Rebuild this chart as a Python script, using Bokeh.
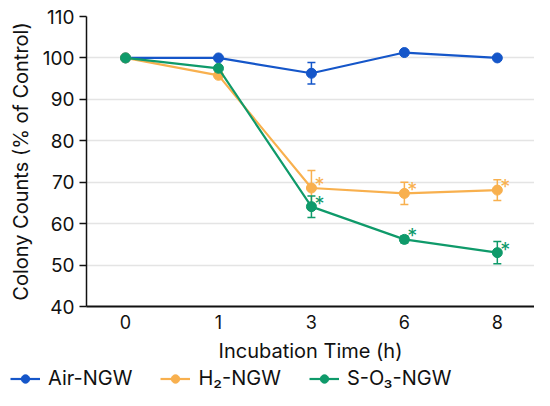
from bokeh.plotting import figure
from bokeh.models import ColumnDataSource, Whisker, Legend, LegendItem, FixedTicker, Range1d
from bokeh.layouts import column
from bokeh.embed import file_html
from bokeh.resources import INLINE
from bokeh.core.properties import value

# ---- data ----
time_labels = ["0", "1", "3", "6", "8"]
x_idx = [0, 1, 2, 3, 4]
air = [100.0, 100.0, 96.3, 101.3, 100.0]
air_err = [0.0, 0.0, 2.6, 0.0, 0.0]
h2 = [100.0, 95.8, 68.6, 67.3, 68.1]
h2_err = [0.0, 0.0, 4.2, 2.7, 2.5]
so3 = [100.0, 97.5, 64.1, 56.2, 53.0]
so3_err = [0.0, 0.0, 2.6, 0.9, 2.7]
h2_sig = [False, False, True, True, True]
so3_sig = [False, False, True, True, True]
y_ticks = [40, 50, 60, 70, 80, 90, 100, 110]

series_names = ["Air-NGW", "H\u2082-NGW", "S-O\u2083-NGW"]
colors = ["#1556c9", "#f8b04e", "#0f9a6a"]

FONT = "Inter"
TXT = "#111111"

W = 534
H_MAIN = 365
H_LEG = 25

p = figure(width=W, height=H_MAIN, output_backend="svg", toolbar_location=None,
           x_range=Range1d(-0.42, 4.40), y_range=Range1d(40, 110),
           min_border_left=86, min_border_right=0, min_border_top=16,
           min_border_bottom=H_MAIN - 307)
p.outline_line_color = None
p.frame_align = False

p.xgrid.grid_line_color = None
p.ygrid.grid_line_color = "#e4e4e4"
p.ygrid.grid_line_width = 1.5

p.xaxis.ticker = FixedTicker(ticks=x_idx)
p.xaxis.major_label_overrides = {i: t for i, t in zip(x_idx, time_labels)}
p.yaxis.ticker = FixedTicker(ticks=y_ticks)
p.xaxis.minor_tick_line_color = None
p.yaxis.minor_tick_line_color = None
p.xaxis.major_tick_line_color = None
p.xaxis.major_tick_out = 0
p.xaxis.major_tick_in = 0
p.yaxis.major_tick_out = 7
p.yaxis.major_tick_in = 0
p.yaxis.major_tick_line_width = 1.5
p.xaxis.axis_line_width = 2
p.yaxis.axis_line_width = 1.5
p.xaxis.axis_line_color = TXT
p.yaxis.axis_line_color = TXT
p.yaxis.major_tick_line_color = TXT

for ax in (p.xaxis, p.yaxis):
    ax.major_label_text_font = FONT
    ax.major_label_text_color = TXT
    ax.axis_label_text_font = FONT
    ax.axis_label_text_font_size = "20px"
    ax.axis_label_text_font_style = "normal"
    ax.axis_label_text_color = TXT
p.xaxis.major_label_text_font_size = "18px"
p.yaxis.major_label_text_font_size = "19px"

p.xaxis.axis_label = "Incubation Time (h)"
p.yaxis.axis_label = "Colony Counts (% of Control)"
p.xaxis.major_label_standoff = 8
p.xaxis.axis_label_standoff = 7
p.yaxis.major_label_standoff = 5
p.yaxis.axis_label_standoff = 7

# legend strip (separate figure so the legend can start left of the main frame)
lg = figure(width=W, height=H_LEG, output_backend="svg", toolbar_location=None,
            x_range=Range1d(0, 1), y_range=Range1d(0, 1),
            x_axis_type=None, y_axis_type=None,
            min_border_left=0, min_border_right=0, min_border_top=0, min_border_bottom=0)
lg.outline_line_color = None
lg.frame_align = False
lg.xgrid.grid_line_color = None
lg.ygrid.grid_line_color = None

items = []
for name, vals, errs, sig, col in [
    (series_names[0], air, air_err, None, colors[0]),
    (series_names[1], h2, h2_err, h2_sig, colors[1]),
    (series_names[2], so3, so3_err, so3_sig, colors[2]),
]:
    src = ColumnDataSource(dict(x=x_idx, y=vals))
    ex = [x for x, e in zip(x_idx, errs) if e > 0]
    ey = [v for v, e in zip(vals, errs) if e > 0]
    ee = [e for e in errs if e > 0]
    esrc = ColumnDataSource(dict(x=ex, lo=[v - e for v, e in zip(ey, ee)],
                                 hi=[v + e for v, e in zip(ey, ee)]))
    w = Whisker(source=esrc, base="x", lower="lo", upper="hi", dimension="height",
                line_color=col, line_width=1.5)
    for hd in (w.upper_head, w.lower_head):
        hd.size = 8
        hd.line_color = col
        hd.line_width = 1.5
    p.add_layout(w)
    p.line("x", "y", source=src, line_color=col, line_width=2.2)
    p.scatter("x", "y", source=src, size=10, fill_color=col, line_color=col)
    if sig is not None:
        sx = [x for x, s in zip(x_idx, sig) if s]
        sy = [v for v, s in zip(vals, sig) if s]
        ssrc = ColumnDataSource(dict(x=sx, y=sy, t=["*"] * len(sx)))
        p.text("x", "y", text="t", source=ssrc, text_color=col, text_font=value(FONT),
               text_font_size="20px", text_align="center", text_baseline="middle",
               x_offset=8, y_offset=-3)
    # legend proxies (off-range point so the glyph has data but is not seen)
    dsrc = ColumnDataSource(dict(x=[-10], y=[-10]))
    l2 = lg.line("x", "y", source=dsrc, line_color=col, line_width=2.2)
    s2 = lg.scatter("x", "y", source=dsrc, size=10, fill_color=col, line_color=col)
    items.append(LegendItem(label=name, renderers=[l2, s2]))

legend = Legend(items=items, orientation="horizontal", location=(10, 0),
                glyph_width=30, glyph_height=21, label_height=21,
                label_standoff=8, spacing=28,
                padding=0, margin=0, border_line_color=None, background_fill_alpha=0,
                label_text_font=FONT, label_text_font_size="20px", label_text_color=TXT)
lg.add_layout(legend, "center")

layout = column(p, lg, spacing=0)
open("out.html", "w").write(file_html(layout, INLINE))
